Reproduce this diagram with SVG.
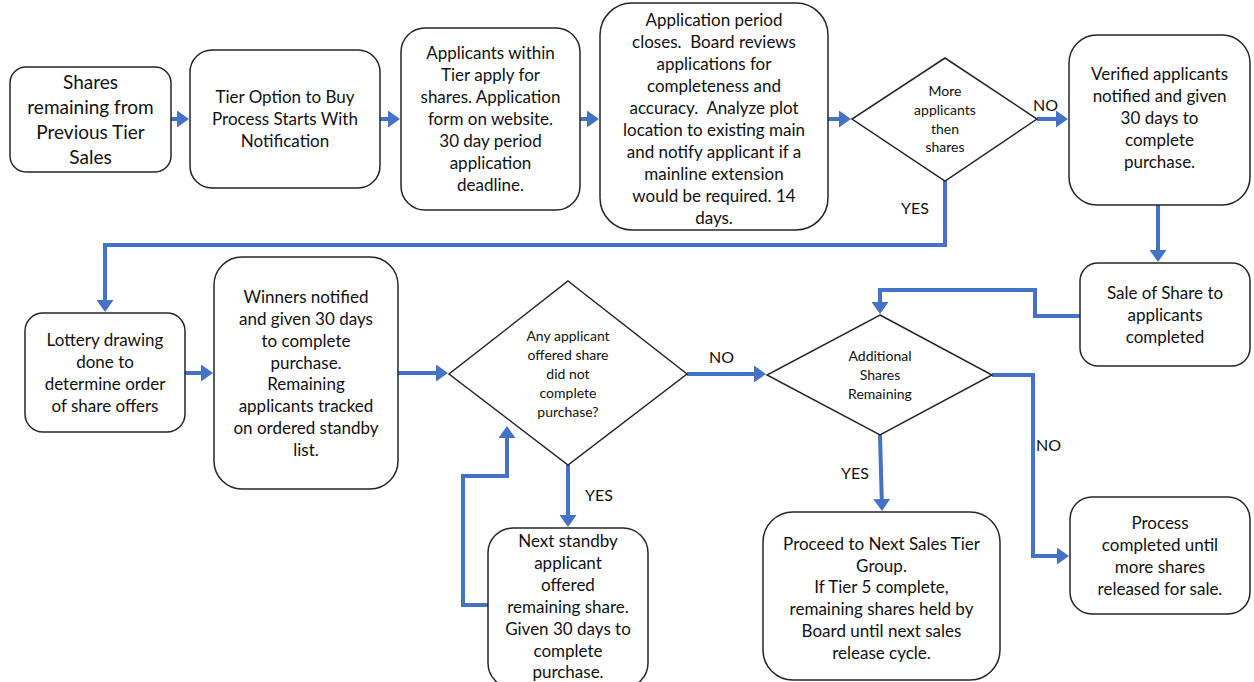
<svg xmlns="http://www.w3.org/2000/svg" width="1254" height="682" viewBox="0 0 1254 682">
<defs>
<style>
.box{fill:#fff;stroke:#262626;stroke-width:1.5}
.t{font-family:Lato,"Open Sans","Liberation Sans",sans-serif;font-size:17px;fill:#111;text-anchor:middle}
.big{font-size:19px}
.sm{font-size:14px}
.lbl{font-family:Lato,"Open Sans","Liberation Sans",sans-serif;font-size:16px;fill:#111}
.c{fill:none;stroke:#4472C4;stroke-width:4;marker-end:url(#ah)}
</style>
<marker id="ah" viewBox="0 0 12 17" refX="9" refY="8.5" markerWidth="3" markerHeight="4.25" orient="auto" markerUnits="strokeWidth">
<path d="M0,0 L12,8.5 L0,17 Z" fill="#4472C4"/>
</marker>
</defs>
<rect width="1254" height="682" fill="#fff"/>

<g id="connectors">
<path class="c" d="M171,119 H186"/>
<path class="c" d="M380,119 H397"/>
<path class="c" d="M580,119 H596"/>
<path class="c" d="M828,119 H848"/>
<path class="c" d="M1037,119 H1065"/>
<path class="c" d="M945,181 V245 H105 V309"/>
<path class="c" d="M1158,205 V259"/>
<path class="c" d="M1080,316 H1035 V290 H880 V311"/>
<path class="c" d="M185,373 H210"/>
<path class="c" d="M398,373 H445"/>
<path class="c" d="M687,374 H763"/>
<path class="c" d="M568,465 V524"/>
<path class="c" d="M488,605 H463 V476 H507 V429"/>
<path class="c" d="M880,435 L882,508"/>
<path class="c" d="M992,375 H1033 V556 H1066"/>
</g>

<g id="n1">
<rect class="box" x="10" y="67" width="161" height="105" rx="16"/>
<text class="t big"><tspan x="90.5" y="89">Shares</tspan><tspan x="90.5" y="114">remaining from</tspan><tspan x="90.5" y="139">Previous Tier</tspan><tspan x="90.5" y="164">Sales</tspan></text>
</g>
<g id="n2">
<rect class="box" x="190" y="50" width="190" height="138" rx="22"/>
<text class="t"><tspan x="285" y="103">Tier Option to Buy</tspan><tspan x="285" y="125">Process Starts With</tspan><tspan x="285" y="147">Notification</tspan></text>
</g>
<g id="n3">
<rect class="box" x="401" y="28" width="179" height="182" rx="24"/>
<text class="t"><tspan x="490.5" y="59">Applicants within</tspan><tspan x="490.5" y="81">Tier apply for</tspan><tspan x="490.5" y="103">shares. Application</tspan><tspan x="490.5" y="125">form on website.</tspan><tspan x="490.5" y="147">30 day period</tspan><tspan x="490.5" y="169">application</tspan><tspan x="490.5" y="191">deadline.</tspan></text>
</g>
<g id="n4">
<rect class="box" x="600" y="3" width="228" height="227" rx="32"/>
<text class="t" xml:space="preserve"><tspan x="714" y="26">Application period</tspan><tspan x="714" y="48">closes.  Board reviews</tspan><tspan x="714" y="70">applications for</tspan><tspan x="714" y="92">completeness and</tspan><tspan x="714" y="114">accuracy.  Analyze plot</tspan><tspan x="714" y="136">location to existing main</tspan><tspan x="714" y="158">and notify applicant if a</tspan><tspan x="714" y="180">mainline extension</tspan><tspan x="714" y="202">would be required. 14</tspan><tspan x="714" y="224">days.</tspan></text>
</g>
<g id="d1">
<polygon class="box" points="945,58 1037,119 945,181 852,119"/>
<text class="t sm"><tspan x="945" y="96">More</tspan><tspan x="945" y="115">applicants</tspan><tspan x="945" y="134">then</tspan><tspan x="945" y="152">shares</tspan></text>
</g>
<text class="lbl" x="1033" y="111">NO</text>
<text class="lbl" x="901" y="214">YES</text>
<g id="n5">
<rect class="box" x="1069" y="35" width="181" height="170" rx="28"/>
<text class="t"><tspan x="1159.5" y="80">Verified applicants</tspan><tspan x="1159.5" y="102">notified and given</tspan><tspan x="1159.5" y="124">30 days to</tspan><tspan x="1159.5" y="146">complete</tspan><tspan x="1159.5" y="168">purchase.</tspan></text>
</g>
<g id="n6">
<rect class="box" x="1080" y="263" width="170" height="103" rx="18"/>
<text class="t"><tspan x="1165" y="299">Sale of Share to</tspan><tspan x="1165" y="321">applicants</tspan><tspan x="1165" y="343">completed</tspan></text>
</g>
<g id="n7">
<rect class="box" x="25" y="313" width="160" height="119" rx="18"/>
<text class="t"><tspan x="105" y="346">Lottery drawing</tspan><tspan x="105" y="368">done to</tspan><tspan x="105" y="390">determine order</tspan><tspan x="105" y="412">of share offers</tspan></text>
</g>
<g id="n8">
<rect class="box" x="214" y="257" width="184" height="232" rx="28"/>
<text class="t"><tspan x="306" y="303">Winners notified</tspan><tspan x="306" y="325">and given 30 days</tspan><tspan x="306" y="347">to complete</tspan><tspan x="306" y="369">purchase.</tspan><tspan x="306" y="390">Remaining</tspan><tspan x="306" y="412">applicants tracked</tspan><tspan x="306" y="434">on ordered standby</tspan><tspan x="306" y="456">list.</tspan></text>
</g>
<g id="d3">
<polygon class="box" points="568,281 687,374 568,465 449,374"/>
<text class="t sm"><tspan x="568" y="341">Any applicant</tspan><tspan x="568" y="360">offered share</tspan><tspan x="568" y="379">did not</tspan><tspan x="568" y="398">complete</tspan><tspan x="568" y="417">purchase?</tspan></text>
</g>
<text class="lbl" x="709" y="363">NO</text>
<text class="lbl" x="585" y="501">YES</text>
<g id="n9">
<rect class="box" x="488" y="528" width="160" height="160" rx="25"/>
<text class="t"><tspan x="568" y="547">Next standby</tspan><tspan x="568" y="569">applicant</tspan><tspan x="568" y="591">offered</tspan><tspan x="568" y="613">remaining share.</tspan><tspan x="568" y="635">Given 30 days to</tspan><tspan x="568" y="657">complete</tspan><tspan x="568" y="678">purchase.</tspan></text>
</g>
<g id="d2">
<polygon class="box" points="880,315 992,375 880,435 767,375"/>
<text class="t sm"><tspan x="880" y="361">Additional</tspan><tspan x="880" y="380">Shares</tspan><tspan x="880" y="399">Remaining</tspan></text>
</g>
<text class="lbl" x="1036" y="451">NO</text>
<text class="lbl" x="841" y="479">YES</text>
<g id="n10">
<rect class="box" x="763" y="512" width="237" height="168" rx="30"/>
<text class="t"><tspan x="881.5" y="550">Proceed to Next Sales Tier</tspan><tspan x="881.5" y="572">Group.</tspan><tspan x="881.5" y="593">If Tier 5 complete,</tspan><tspan x="881.5" y="615">remaining shares held by</tspan><tspan x="881.5" y="637">Board until next sales</tspan><tspan x="881.5" y="659">release cycle.</tspan></text>
</g>
<g id="n11">
<rect class="box" x="1070" y="497" width="180" height="117" rx="22"/>
<text class="t"><tspan x="1160" y="529">Process</tspan><tspan x="1160" y="551">completed until</tspan><tspan x="1160" y="573">more shares</tspan><tspan x="1160" y="595">released for sale.</tspan></text>
</g>
</svg>
